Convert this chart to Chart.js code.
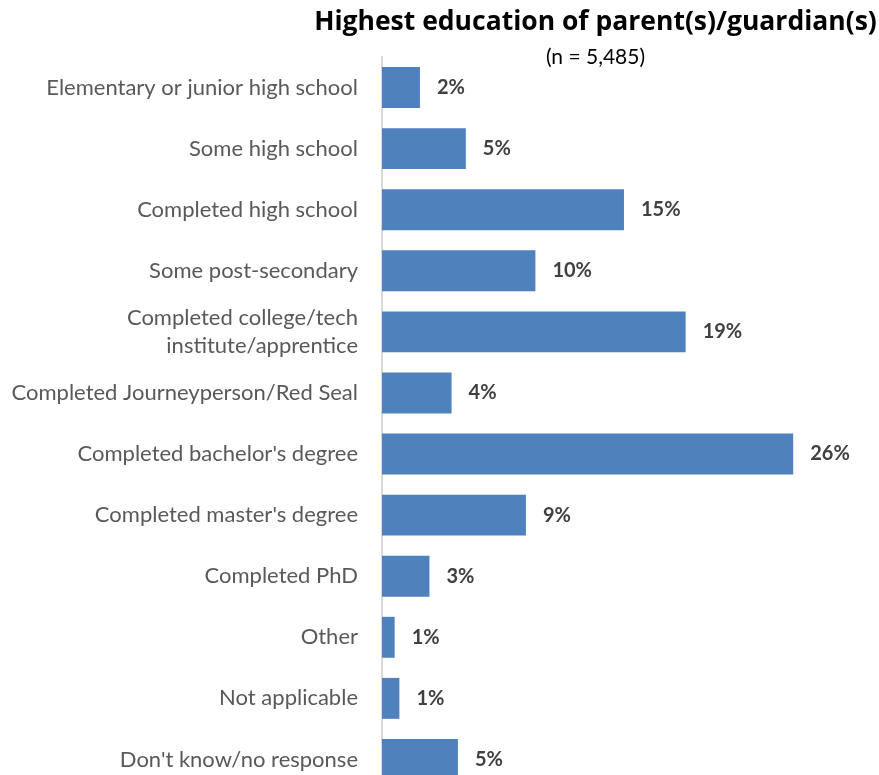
<!DOCTYPE html>
<html>
<head>
<meta charset="utf-8">
<script src="https://cdn.jsdelivr.net/npm/chart.js@4"></script>
<style>
  body { margin: 0; overflow: hidden; background: #fff; }
</style>
</head>
<body>
<canvas id="eduChart" width="879" height="790"></canvas>
<script>
const categories = [
    'Elementary or junior high school',
    'Some high school',
    'Completed high school',
    'Some post-secondary',
    ['Completed college/tech', 'institute/apprentice'],
    'Completed Journeyperson/Red Seal',
    "Completed bachelor's degree",
    "Completed master's degree",
    'Completed PhD',
    'Other',
    'Not applicable',
    "Don't know/no response"
];
const percents = [2.4, 5.3, 15.3, 9.7, 19.2, 4.4, 26.0, 9.1, 3.0, 0.8, 1.1, 4.8];
const chartTitle = 'Highest education of parent(s)/guardian(s)';
const chartSubtitle = '(n = 5,485)';

const fontFam = 'Lato, "Open Sans", sans-serif';

// value labels to the right of each bar
const valueLabels = {
    id: 'valueLabels',
    afterDatasetsDraw(chart) {
        const ctx = chart.ctx;
        const meta = chart.getDatasetMeta(0);
        ctx.save();
        ctx.font = 'bold 20px ' + fontFam;
        ctx.fillStyle = '#404040';
        ctx.textAlign = 'left';
        ctx.textBaseline = 'middle';
        meta.data.forEach((bar, i) => {
            ctx.fillText(Math.round(percents[i]) + '%', bar.x + 17, bar.y);
        });
        ctx.restore();
    }
};

// title + subtitle centred over the plot area (built-in title squeezes wide text)
const headline = {
    id: 'headline',
    afterDraw(chart) {
        const ctx = chart.ctx;
        const area = chart.chartArea;
        const cx = (area.left + area.right) / 2;
        ctx.save();
        ctx.textAlign = 'center';
        ctx.textBaseline = 'middle';
        ctx.fillStyle = '#000000';
        ctx.font = 'bold 26.5px "Open Sans", sans-serif';
        ctx.fillText(chartTitle, cx, 22);
        ctx.font = '21px ' + fontFam;
        ctx.fillText(chartSubtitle, cx, 57);
        ctx.restore();
    }
};

let ctx = document.getElementById('eduChart').getContext('2d');
let eduChart = new Chart(ctx, {
    type: 'bar',
    data: {
        labels: categories,
        datasets: [{
            data: percents,
            backgroundColor: '#4F81BD',
            barPercentage: 0.67,
            categoryPercentage: 1
        }]
    },
    options: {
        indexAxis: 'y',
        responsive: false,
        animation: false,
        layout: { padding: { left: 0, right: 70, top: 57, bottom: 0 } },
        scales: {
            x: { display: false, min: 0, max: 27 },
            y: {
                afterFit: (scale) => {
                    scale.width = 382;
                    scale.paddingTop = 0;
                    scale.paddingBottom = 0;
                },
                grid: { display: false, drawTicks: false },
                border: { display: true, color: '#D9D9D9', width: 2 },
                ticks: {
                    padding: 24,
                    color: '#595959',
                    font: { family: fontFam, size: 22, lineHeight: 1.3 }
                }
            }
        },
        plugins: {
            legend: { display: false },
            tooltip: { enabled: false }
        }
    },
    plugins: [valueLabels, headline]
});
</script>
</body>
</html>
